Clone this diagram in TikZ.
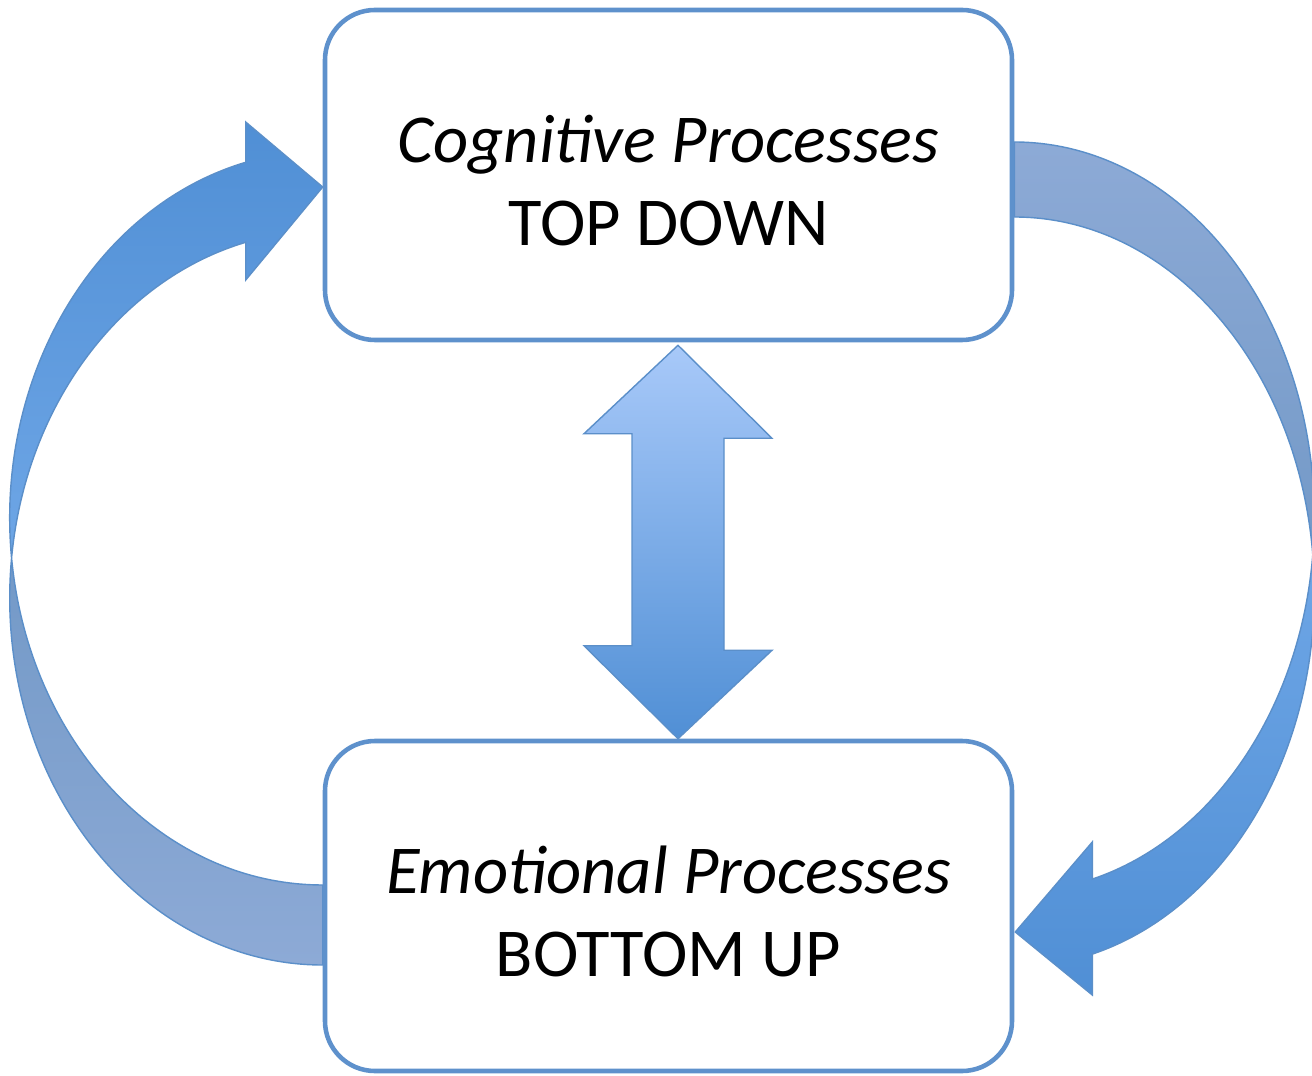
\documentclass[tikz,border=0pt]{standalone}
\usepackage{fontspec}
\setmainfont{Carlito}
\usetikzlibrary{positioning, calc}
\definecolor{boxline}{RGB}{94,145,204}
\definecolor{arrline}{RGB}{91,143,201}
\definecolor{deepblue}{RGB}{80,143,213}
\definecolor{midblue}{RGB}{110,166,230}
\definecolor{paleblue}{RGB}{168,201,249}
\definecolor{backlight}{RGB}{141,170,214}
\definecolor{backdark}{RGB}{115,153,199}
\newcommand{\lift}{\rule{0pt}{33pt}}
\pgfdeclarelayer{bg}
\pgfsetlayers{bg,main}

\begin{document}
\begin{tikzpicture}[x=0.2mm, y=0.2mm, on grid, node distance=146.2mm,
  proc/.style={draw=boxline, line width=2.6pt, rounded corners=10mm, fill=white,
    minimum width=137.4mm, minimum height=66mm, align=center,
    font=\fontsize{39}{47}\selectfont},
  face/.style={draw=arrline, line width=0.8pt}]
  \useasboundingbox (0,0) rectangle (1312,1075);
  \node[proc] (cog) at (668.5,900) {\lift\textit{Cognitive Processes}\\TOP DOWN};
  \node[proc] (emo) [below=of cog] {\lift\textit{Emotional Processes}\\BOTTOM UP};
  \begin{pgfonlayer}{bg}
    \path[face, top color=backdark, bottom color=backlight]
      ($(emo.west)+(0,-59)$)
      arc[start angle=270, end angle=173.74, x radius=313, y radius=367]
      arc[start angle=186.26, end angle=270, x radius=313, y radius=367] -- cycle;
    \path[face, top color=deepblue, bottom color=midblue]
      ($(cog.west)+(-77,12.7)$)
      arc[start angle=104.24, end angle=186.26, x radius=313, y radius=367]
      arc[start angle=173.74, end angle=104.24, x radius=313, y radius=367]
      -- ++(0,-37.7) -- ++(77,93) -- ++(-77,65) -- cycle;
    \path[face, top color=backlight, bottom color=backdark]
      ($(cog.east)+(0,33)$)
      arc[start angle=90, end angle=-5.74, x radius=300, y radius=375]
      arc[start angle=5.74, end angle=90, x radius=300, y radius=375] -- cycle;
    \path[face, top color=midblue, bottom color=deepblue]
      ($(emo.east)+(78,26.9)$)
      arc[start angle=-74.93, end angle=-5.74, x radius=300, y radius=375]
      arc[start angle=5.74, end angle=-74.93, x radius=300, y radius=375]
      -- ++(0,-40.9) -- ++(-77,63) -- ++(77,90) -- cycle;
    \path[face, top color=paleblue, bottom color=deepblue]
      ($(cog.south)+(9.5,-3)$) -- ++(94,-93) -- ++(-48,0) -- ++(0,-212) -- ++(48,0)
      -- ($(emo.north)+(9.5,0)$) -- ++(-94,93) -- ++(48,0) -- ++(0,212) -- ++(-48,0) -- cycle;
  \end{pgfonlayer}
\end{tikzpicture}
\end{document}
